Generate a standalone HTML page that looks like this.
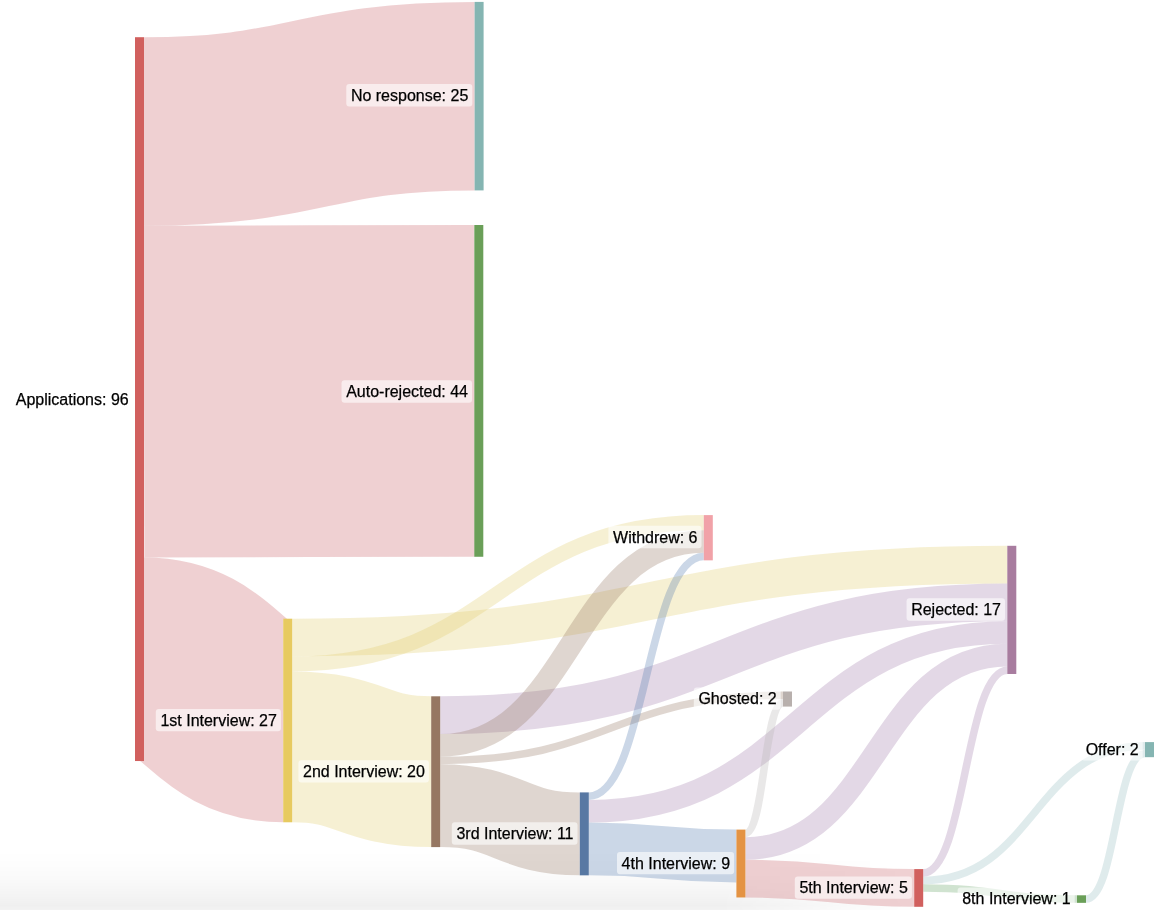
<!DOCTYPE html>
<html><head><meta charset="utf-8"><style>
html,body{margin:0;padding:0;background:#fff;width:1170px;height:910px;overflow:hidden}
svg{position:absolute;left:0;top:0}
text{font-family:"Liberation Sans",sans-serif;font-size:16px;fill:#000;stroke:#000;stroke-width:0.25px;text-anchor:end}
#txt{will-change:transform}
#fade{position:absolute;left:0;top:850px;width:1170px;height:60px;background:linear-gradient(to bottom,rgba(0,0,0,0) 0px,rgba(0,0,0,0.008) 15px,rgba(0,0,0,0.025) 32px,rgba(0,0,0,0.048) 48px,rgba(0,0,0,0.062) 56px,rgba(0,0,0,0.055) 58px,rgba(0,0,0,0.05) 60px);-webkit-mask-image:linear-gradient(to right,#000 0px,#000 720px,rgba(0,0,0,0) 920px);mask-image:linear-gradient(to right,#000 0px,#000 720px,rgba(0,0,0,0) 920px)}
</style></head><body>
<div id="fade"></div>
<svg width="1170" height="910" viewBox="0 0 1170 910">
<g fill="none" stroke-opacity="0.3">
<path d="M144.00,131.45C309.30,131.45 309.30,96.15 474.60,96.15" stroke="#cb626a" stroke-width="188.50"/>
<path d="M144.00,391.58C309.15,391.58 309.15,390.88 474.30,390.88" stroke="#cb626a" stroke-width="331.76"/>
<path d="M144.00,659.25C213.60,659.25 213.60,720.49 283.20,720.49" stroke="#cb626a" stroke-width="203.58"/>
<path d="M292.20,637.55C649.75,637.55 649.75,564.65 1007.30,564.65" stroke="#e1cc6c" stroke-width="37.70"/>
<path d="M292.20,663.94C498.00,663.94 498.00,522.64 703.80,522.64" stroke="#e1cc6c" stroke-width="15.08"/>
<path d="M292.20,746.88C361.70,746.88 361.70,771.70 431.20,771.70" stroke="#e1cc6c" stroke-width="150.80"/>
<path d="M440.20,715.15C723.75,715.15 723.75,602.35 1007.30,602.35" stroke="#a27eab" stroke-width="37.70"/>
<path d="M440.20,745.31C572.00,745.31 572.00,541.49 703.80,541.49" stroke="#967765" stroke-width="22.62"/>
<path d="M440.20,760.39C611.60,760.39 611.60,695.27 783.00,695.27" stroke="#967765" stroke-width="7.54"/>
<path d="M440.20,805.63C510.00,805.63 510.00,833.87 579.80,833.87" stroke="#967765" stroke-width="82.94"/>
<path d="M588.80,796.17C646.30,796.17 646.30,556.57 703.80,556.57" stroke="#527aaf" stroke-width="7.54"/>
<path d="M588.80,811.25C798.05,811.25 798.05,632.51 1007.30,632.51" stroke="#a27eab" stroke-width="22.62"/>
<path d="M588.80,848.95C662.60,848.95 662.60,855.99 736.40,855.99" stroke="#527aaf" stroke-width="52.78"/>
<path d="M745.40,833.37C764.20,833.37 764.20,702.81 783.00,702.81" stroke="#b6b2b2" stroke-width="7.54"/>
<path d="M745.40,848.45C876.35,848.45 876.35,655.13 1007.30,655.13" stroke="#a27eab" stroke-width="22.62"/>
<path d="M745.40,878.61C829.80,878.61 829.80,887.95 914.20,887.95" stroke="#cb626a" stroke-width="37.70"/>
<path d="M923.20,872.87C965.25,872.87 965.25,670.21 1007.30,670.21" stroke="#a27eab" stroke-width="7.54"/>
<path d="M923.20,880.41C1034.10,880.41 1034.10,745.87 1145.00,745.87" stroke="#94bcc0" stroke-width="7.54"/>
<path d="M923.20,887.95C1000.10,887.95 1000.10,899.07 1077.00,899.07" stroke="#64a164" stroke-width="7.54"/>
<path d="M1086.00,899.07C1115.50,899.07 1115.50,753.41 1145.00,753.41" stroke="#94bcc0" stroke-width="7.54"/>
</g>
<g>
<rect x="135.00" y="37.20" width="9.0" height="723.84" fill="#d1605e"/>
<rect x="474.60" y="1.90" width="9.0" height="188.50" fill="#85b5b2"/>
<rect x="474.30" y="225.00" width="9.0" height="331.76" fill="#6a9f58"/>
<rect x="283.20" y="618.70" width="9.0" height="203.58" fill="#e7ca60"/>
<rect x="431.20" y="696.30" width="9.0" height="150.80" fill="#967762"/>
<rect x="579.80" y="792.40" width="9.0" height="82.94" fill="#5878a3"/>
<rect x="736.40" y="829.60" width="9.0" height="67.86" fill="#e49343"/>
<rect x="914.20" y="869.10" width="9.0" height="37.70" fill="#d1605e"/>
<rect x="703.80" y="515.10" width="9.0" height="45.24" fill="#f1a2a8"/>
<rect x="1007.30" y="545.80" width="9.0" height="128.18" fill="#a87c9f"/>
<rect x="783.00" y="691.50" width="9.0" height="15.08" fill="#b8b0ad"/>
<rect x="1145.00" y="742.10" width="9.0" height="15.08" fill="#85b5b2"/>
<rect x="1077.00" y="895.30" width="9.0" height="7.54" fill="#6a9f58"/>
</g>
<defs><filter id="hb" x="-20%" y="-50%" width="140%" height="200%"><feGaussianBlur stdDeviation="0.6"/></filter></defs>
<g fill="#fff" fill-opacity="0.6" filter="url(#hb)">
<rect x="11.13" y="388.09" width="121.57" height="22.36" rx="3"/>
<rect x="346.29" y="84.12" width="126.01" height="22.36" rx="3"/>
<rect x="341.54" y="380.35" width="130.46" height="22.36" rx="3"/>
<rect x="155.80" y="708.96" width="125.10" height="22.36" rx="3"/>
<rect x="298.44" y="760.17" width="130.46" height="22.36" rx="3"/>
<rect x="451.81" y="822.34" width="125.69" height="22.36" rx="3"/>
<rect x="617.00" y="852.00" width="117.10" height="22.36" rx="3"/>
<rect x="794.80" y="876.42" width="117.10" height="22.36" rx="3"/>
<rect x="608.43" y="525.79" width="93.07" height="22.36" rx="3"/>
<rect x="906.56" y="598.36" width="98.44" height="22.36" rx="3"/>
<rect x="693.82" y="687.51" width="86.88" height="22.36" rx="3"/>
<rect x="1081.04" y="738.11" width="61.66" height="22.36" rx="3"/>
<rect x="957.60" y="887.54" width="117.10" height="22.36" rx="3"/>
</g>
</svg>
<svg id="txt" width="1170" height="910" viewBox="0 0 1170 910">
<text x="128.70" y="404.85">Applications: 96</text>
<text x="468.30" y="100.88">No response: 25</text>
<text x="468.00" y="397.11">Auto-rejected: 44</text>
<text x="276.90" y="725.72">1st Interview: 27</text>
<text x="424.90" y="776.93">2nd Interview: 20</text>
<text x="573.50" y="839.10">3rd Interview: 11</text>
<text x="730.10" y="868.76">4th Interview: 9</text>
<text x="907.90" y="893.18">5th Interview: 5</text>
<text x="697.50" y="542.55">Withdrew: 6</text>
<text x="1001.00" y="615.12">Rejected: 17</text>
<text x="776.70" y="704.27">Ghosted: 2</text>
<text x="1138.70" y="754.87">Offer: 2</text>
<text x="1070.70" y="904.30">8th Interview: 1</text>
</svg>
</body></html>
